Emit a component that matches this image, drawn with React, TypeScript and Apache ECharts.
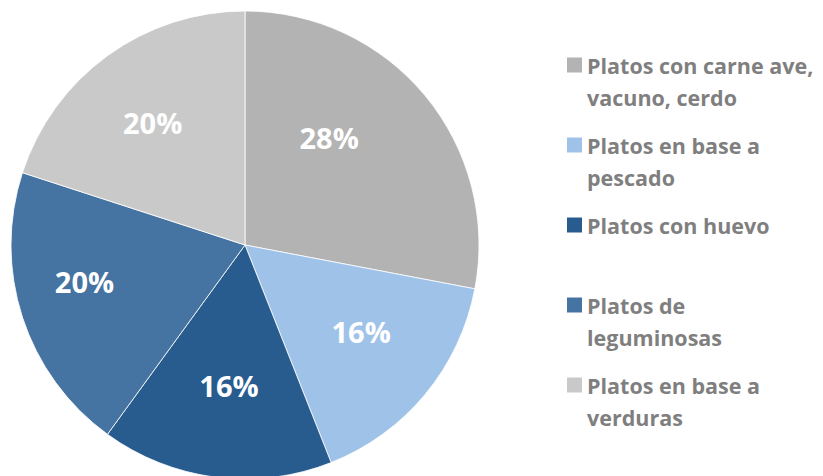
import React, { useEffect, useRef } from "react";
import * as echarts from "echarts";

const categories = [
  "Platos con carne ave, vacuno, cerdo",
  "Platos en base a pescado",
  "Platos con huevo",
  "Platos de leguminosas",
  "Platos en base a verduras",
];
const legendLabels = [
  "Platos con carne ave,\nvacuno, cerdo",
  "Platos en base a\npescado",
  "Platos con huevo\n ",
  "Platos de\nleguminosas",
  "Platos en base a\nverduras",
];
const shares = [28, 16, 16, 20, 20];
const colors = ["#B3B3B3", "#9FC2E9", "#285C8F", "#4573A2", "#C9C9C9"];

const FONT = "'Open Sans', Lato, sans-serif";
const labelOffsets: [number, number][] = [
  [-33, -11],
  [-1, -10],
  [3, -10],
  [-16, -10],
  [-3, 0],
];

export default function App() {
  const ref = useRef<HTMLDivElement>(null);
  useEffect(() => {
    if (!ref.current) return;
    const chart = echarts.init(ref.current, null, { renderer: "svg" });
    const LH = 32;
    const FS = 21.5;
    const rich: Record<string, any> = {
      g: { width: 5, lineHeight: LH },
      p: { width: 20, lineHeight: LH },
      t: {
        fontFamily: FONT,
        fontWeight: "bold",
        fontSize: FS,
        color: "#7F7F7F",
        lineHeight: LH,
      },
    };
    colors.forEach((c, i) => {
      rich["s" + i] = { width: 15, height: 15, backgroundColor: c, lineHeight: LH };
    });
    chart.setOption({
      animation: false,
      backgroundColor: "#ffffff",
      legend: {
        orient: "vertical",
        left: 561,
        top: 49,
        padding: 0,
        itemGap: 16,
        itemWidth: 0,
        itemHeight: 0,
        selectedMode: false,
        data: categories,
        formatter: (name: string) => {
          const i = categories.indexOf(name);
          const lines = legendLabels[i].split("\n");
          return lines
            .map((l, k) => (k === 0 ? `{s${i}|}{g|}{t|${l}}` : `{p|}{t|${l}}`))
            .join("\n");
        },
        textStyle: {
          fontFamily: FONT,
          fontWeight: "bold",
          fontSize: FS,
          lineHeight: LH,
          rich,
        },
      },
      series: [
        {
          type: "pie",
          center: [245, 245],
          radius: 234,
          startAngle: 90,
          clockwise: true,
          silent: true,
          label: { show: false },
          labelLine: { show: false },
          itemStyle: { borderColor: "#ffffff", borderWidth: 0.8 },
          data: categories.map((n, i) => ({
            name: n,
            value: shares[i],
            itemStyle: { color: colors[i] },
          })),
        },
        {
          type: "pie",
          center: [245, 245],
          radius: [64, 234],
          startAngle: 90,
          clockwise: true,
          silent: true,
          itemStyle: { color: "rgba(0,0,0,0)" },
          labelLine: { show: false },
          label: {
            show: true,
            position: "inside",
            formatter: "{c}%",
            color: "#ffffff",
            fontFamily: FONT,
            fontWeight: "bold",
            fontSize: 29,
          },
          data: categories.map((n, i) => ({
            name: n,
            value: shares[i],
            label: { offset: labelOffsets[i] },
          })),
        },
      ],
    });
    return () => chart.dispose();
  }, []);
  return (
    <div
      ref={ref}
      style={{ position: "fixed", left: 0, top: 0, width: 823, height: 476 }}
    />
  );
}
